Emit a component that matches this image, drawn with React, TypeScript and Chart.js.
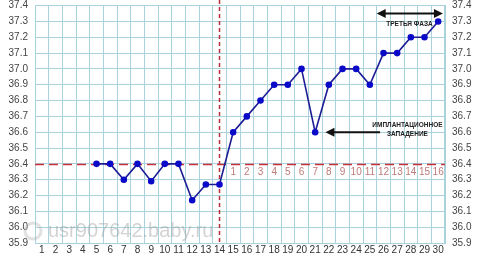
import React, { useEffect, useRef } from "react";
import { Chart, registerables } from "chart.js";

Chart.register(...registerables);

const days = ["1","2","3","4","5","6","7","8","9","10","11","12","13","14","15","16","17","18","19","20","21","22","23","24","25","26","27","28","29","30"];
const temps = [null, null, null, null, 36.4, 36.4, 36.3, 36.4, 36.29, 36.4, 36.4, 36.17, 36.27, 36.27, 36.6, 36.7, 36.8, 36.9, 36.9, 37.0, 36.6, 36.9, 37.0, 37.0, 36.9, 37.1, 37.1, 37.2, 37.2, 37.3];
const phaseLabels = ["1","2","3","4","5","6","7","8","9","10","11","12","13","14","15","16"];
const phaseStartDay = "15";
const coverLine = 36.4;
const ovulationDay = "14";
const yMin = 35.9;
const yMax = 37.4;
const thirdPhaseText = "ТРЕТЬЯ ФАЗА";
const implantText = ["ИМПЛАНТАЦИОННОЕ", "ЗАПАДЕНИЕ"];
const watermark = "usr907642.baby.ru";

const GRID = "#a9d2dc";

function arrowHead(ctx: CanvasRenderingContext2D, x: number, y: number, dir: number) {
  ctx.beginPath();
  ctx.moveTo(x, y);
  ctx.lineTo(x - dir * 9, y - 4.5);
  ctx.lineTo(x - dir * 9, y + 4.5);
  ctx.closePath();
  ctx.fill();
}

const overlay = {
  id: "overlay",
  beforeDatasetsDraw(chart: any) {
    const { ctx, chartArea, scales } = chart;
    const x = scales.x, y = scales.y;
    ctx.save();
    const yy = Math.round(y.getPixelForValue(coverLine)) + 0.5;
    ctx.strokeStyle = "#c8303a";
    ctx.lineWidth = 1.5;
    ctx.setLineDash([9, 5]);
    ctx.beginPath();
    ctx.moveTo(chartArea.left, yy);
    ctx.lineTo(chartArea.right, yy);
    ctx.stroke();
    const xx = x.getPixelForValue(days.indexOf(ovulationDay));
    ctx.strokeStyle = "#b5303a";
    ctx.setLineDash([4, 3]);
    ctx.beginPath();
    ctx.moveTo(xx, 0);
    ctx.lineTo(xx, chartArea.bottom);
    ctx.stroke();
    ctx.restore();
  },
  afterDraw(chart: any) {
    const { ctx, scales } = chart;
    const x = scales.x, y = scales.y;
    const px = (d: number) => x.getPixelForValue(d - 1);
    ctx.save();
    ctx.fillStyle = "#c07a7a";
    ctx.font = "10px 'Liberation Sans', Arial";
    ctx.textAlign = "center";
    ctx.textBaseline = "middle";
    const start = days.indexOf(phaseStartDay);
    const ly = y.getPixelForValue(coverLine) + 8;
    phaseLabels.forEach((t, i) => ctx.fillText(t, x.getPixelForValue(start + i), ly));

    ctx.strokeStyle = "#111";
    ctx.fillStyle = "#111";
    ctx.lineWidth = 2;
    const ay = y.getPixelForValue(37.35);
    const ax1 = px(25.5), ax2 = px(30.35);
    ctx.beginPath();
    ctx.moveTo(ax1 + 4, ay);
    ctx.lineTo(ax2 - 4, ay);
    ctx.stroke();
    arrowHead(ctx, ax1, ay, -1);
    arrowHead(ctx, ax2, ay, 1);
    ctx.font = "bold 6.5px 'Liberation Sans', Arial";
    ctx.fillStyle = "#222";
    ctx.fillText(thirdPhaseText, px(27.9), y.getPixelForValue(37.28));

    const iy = y.getPixelForValue(36.6);
    const ix1 = px(21.75), ix2 = px(25.75);
    ctx.fillStyle = "#111";
    ctx.beginPath();
    ctx.moveTo(ix1 + 4, iy);
    ctx.lineTo(ix2, iy);
    ctx.stroke();
    arrowHead(ctx, ix1, iy, -1);
    ctx.fillStyle = "#222";
    ctx.fillText(implantText[0], px(27.75), y.getPixelForValue(36.645));
    ctx.fillText(implantText[1], px(27.75), y.getPixelForValue(36.585));

    ctx.font = "20px 'Liberation Sans', Arial";
    ctx.textAlign = "left";
    ctx.fillStyle = "rgba(150,150,150,0.42)";
    ctx.fillText(watermark, 48, 231);
    ctx.strokeStyle = "rgba(180,180,180,0.4)";
    ctx.lineWidth = 3;
    ctx.beginPath();
    ctx.arc(33, 231, 8, 0, Math.PI * 2);
    ctx.stroke();
    ctx.restore();
  },
};

const fitY = (s: any) => { s.width = 35; s.paddingTop = 0; s.paddingBottom = 0; };

export default function App() {
  const ref = useRef<HTMLCanvasElement>(null);
  useEffect(() => {
    const chart = new Chart(ref.current!, {
      type: "line",
      data: {
        labels: days,
        datasets: [
          {
            data: temps as any,
            borderColor: "#1c1c96",
            borderWidth: 1.6,
            pointBackgroundColor: "#0a0ac8",
            pointBorderColor: "#0a0ac8",
            pointRadius: 2.5,
            tension: 0,
            spanGaps: false,
          },
        ],
      },
      options: {
        animation: false,
        responsive: false,
        layout: { padding: { top: 4, left: 0, right: 0, bottom: 0 } },
        plugins: { legend: { display: false }, tooltip: { enabled: false } },
        scales: {
          x: {
            type: "category",
            offset: true,
            grid: { offset: true, color: GRID, drawTicks: false },
            border: { color: GRID },
            ticks: { color: "#333", font: { size: 10, family: "'Liberation Sans', Arial" }, padding: 1, autoSkip: false, maxRotation: 0 },
            afterFit: (s: any) => { s.height = 13; s.paddingLeft = 0; s.paddingRight = 0; },
          },
          y: {
            position: "left",
            min: yMin,
            max: yMax,
            grid: { color: GRID, drawTicks: false },
            border: { color: GRID },
            ticks: { stepSize: 0.1, color: "#444", font: { size: 10, family: "'Liberation Sans', Arial" }, padding: 7, callback: (v: any) => Number(v).toFixed(1) },
            afterFit: fitY,
          },
          y2: {
            position: "right",
            min: yMin,
            max: yMax,
            grid: { display: false, drawTicks: false },
            border: { color: GRID },
            ticks: { stepSize: 0.1, color: "#444", font: { size: 10, family: "'Liberation Sans', Arial" }, padding: 7, callback: (v: any) => Number(v).toFixed(1) },
            afterFit: fitY,
          },
        },
      },
      plugins: [overlay],
    });
    return () => chart.destroy();
  }, []);
  return (
    <div style={{ position: "fixed", left: 0, top: 0, width: 480, height: 256, background: "#fff" }}>
      <canvas ref={ref} width={480} height={256} />
    </div>
  );
}
